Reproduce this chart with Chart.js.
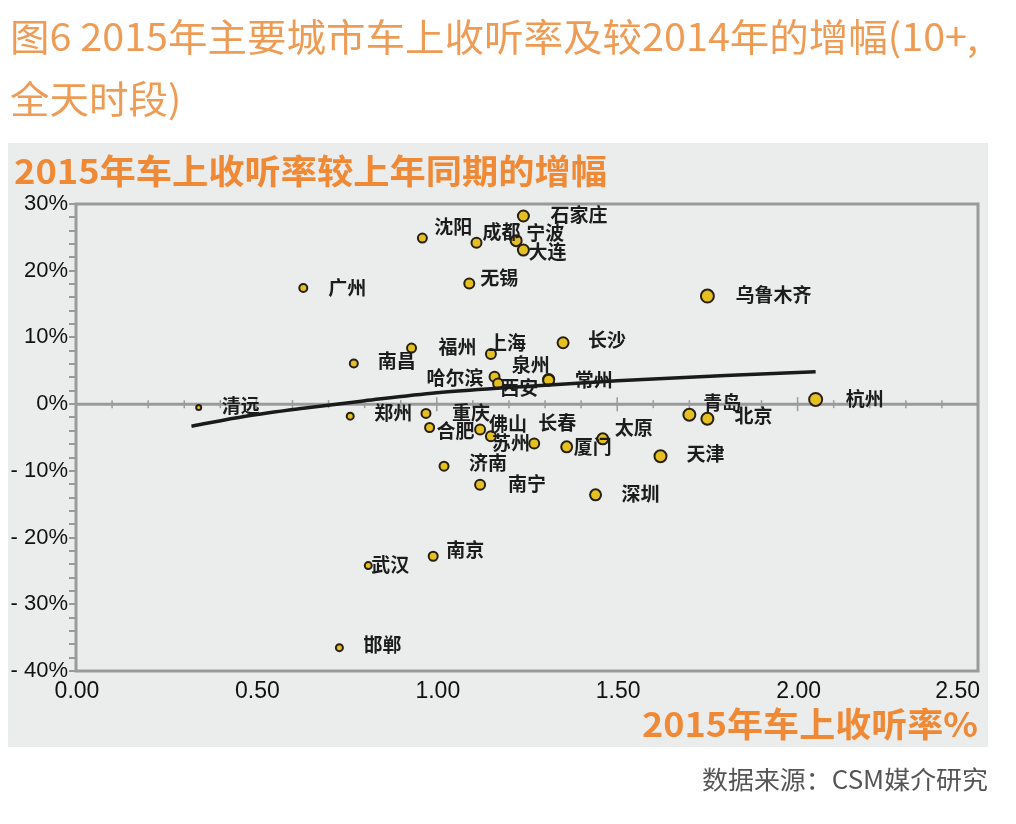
<!DOCTYPE html>
<html>
<head>
<meta charset="utf-8">
<script src="https://cdn.jsdelivr.net/npm/chart.js@4.4.1/dist/chart.umd.min.js"></script>
<style>
  html, body { margin: 0; padding: 0; background: #fff; }
  body { width: 1016px; height: 824px; position: relative; overflow: hidden; }
  #panel { position: absolute; left: 8px; top: 143px; width: 980px; height: 604px; background: #ebeded; }
  #chart { position: absolute; left: 0; top: 0; }
  .txt { position: absolute; white-space: nowrap; transform-origin: 0 50%; }
  #title { left: 10px; top: 4px; font: 400 38px/62px "Noto Sans CJK SC", sans-serif; color: #ee9c55; transform-origin: 0 0; }
  #subtitle { left: 14px; top: 150px; font: 700 34px/40px "Noto Sans CJK SC", sans-serif; color: #ef8936; }
  #xtitle { left: 642px; top: 703px; font: 700 34px/40px "Noto Sans CJK SC", sans-serif; color: #ef8936; }
  #source { left: 702px; top: 762px; font: 400 25px/32px "Noto Sans CJK SC", sans-serif; color: #555; }
</style>
</head>
<body>
<div id="panel"></div>
<canvas id="chart" width="1016" height="824"></canvas>
<div class="txt" id="title"><span id="t1">图6 2015年主要城市车上收听率及较2014年的增幅(10+,</span><br><span>全天时段)</span></div>
<div class="txt" id="subtitle">2015年车上收听率较上年同期的增幅</div>
<div class="txt" id="xtitle">2015年车上收听率%</div>
<div class="txt" id="source">数据来源：CSM媒介研究</div>
<script>
// city, 2015 in-car rating (x), growth vs 2014 in % (y), bubble size
var cities = ["清远", "广州", "南昌", "福州", "上海", "沈阳", "成都", "无锡", "石家庄", "宁波",
  "大连", "乌鲁木齐", "长沙", "哈尔滨", "西安", "泉州", "常州", "杭州", "青岛", "北京",
  "郑州", "重庆", "合肥", "佛山", "苏州", "长春", "厦门", "太原", "天津", "济南",
  "南宁", "深圳", "南京", "武汉", "邯郸"];
var rating = [0.34, 0.63, 0.77, 0.93, 1.15, 0.96, 1.11, 1.09, 1.24, 1.22,
  1.24, 1.75, 1.35, 1.16, 1.17, 1.31, 1.31, 2.05, 1.70, 1.75,
  0.76, 0.97, 0.98, 1.12, 1.15, 1.27, 1.36, 1.46, 1.62, 1.02,
  1.12, 1.44, 0.99, 0.81, 0.73];
var growth = [-0.5, 17.4, 6.1, 8.4, 7.5, 24.9, 24.2, 18.1, 28.2, 24.5,
  23.1, 16.2, 9.2, 4.1, 3.1, 3.7, 3.6, 0.7, -1.6, -2.2,
  -1.8, -1.4, -3.5, -3.8, -4.8, -5.9, -6.4, -5.2, -7.8, -9.3,
  -12.1, -13.6, -22.8, -24.2, -36.5];
var bubbleSize = [2.5, 4, 4, 4.5, 5, 4.5, 5, 5, 5.5, 5.5,
  5.5, 6.5, 5.5, 5, 5, 5.5, 5.5, 6.5, 6, 6,
  3.5, 4.5, 4.5, 5, 5, 5, 5.5, 5.5, 6, 4.5,
  5, 5.5, 4.5, 3.5, 3.5];

// trend line
var trendX = [0.32, 0.47, 0.63, 0.80, 1.00, 1.20, 1.50, 1.80, 2.05];
var trendY = [-3.3, -1.8, -0.6, 0.5, 1.7, 2.5, 3.5, 4.3, 4.85];

var xTicks = [0, 0.5, 1, 1.5, 2, 2.5];
var xTickLabels = ["0.00", "0.50", "1.00", "1.50", "2.00", "2.50"];
var yTickLabels = { "30": "30%", "20": "20%", "10": "10%", "0": "0%",
  "-10": "- 10%", "-20": "- 20%", "-30": "- 30%", "-40": "- 40%" };

// label placement relative to each bubble: [dx, dy, align]
var labelPlace = [[23, -2, "left"], [25, 0, "left"], [24, -3, "left"], [27, -1, "left"], [-3, -11, "left"],
  [12, -11, "left"], [6, -11, "left"], [11, -6, "left"], [27, -1, "left"], [10, -8, "left"],
  [5, 2, "left"], [28, -1, "left"], [25, -3, "left"], [-11, 1, "right"], [2, 4, "left"],
  [1, -15, "right"], [26, 0, "left"], [30, -1, "left"], [14, -12, "left"], [27, -3, "left"],
  [24, -3, "left"], [26, -1, "left"], [7, 3, "left"], [9, -6, "left"], [1, 7, "left"],
  [4, -21, "left"], [7, 0, "left"], [12, -11, "left"], [26, -2, "left"], [25, -3, "left"],
  [28, -1, "left"], [26, -1, "left"], [13, -6, "left"], [3, -1, "left"], [24, -3, "left"]];

var points = cities.map(function (c, i) {
  return { x: rating[i], y: growth[i], r: bubbleSize[i] };
});
var trend = trendX.map(function (x, i) { return { x: x, y: trendY[i] }; });

var axisGray = "#9a9a9a";
var tickFont = '"Liberation Sans", Arial, sans-serif';

var framePlugin = {
  id: "frame",
  beforeDatasetsDraw: function (chart) {
    var ctx = chart.ctx, a = chart.chartArea, xs = chart.scales.x, ys = chart.scales.y;
    ctx.save();
    ctx.strokeStyle = axisGray;
    ctx.lineWidth = 3;
    ctx.strokeRect(a.left, a.top, a.right - a.left, a.bottom - a.top);
    var y0 = ys.getPixelForValue(0);
    ctx.beginPath();
    ctx.moveTo(a.left, y0);
    ctx.lineTo(a.right, y0);
    ctx.stroke();
    ctx.lineWidth = 1.5;
    for (var k = 1; k < 25; k++) {
      var px = xs.getPixelForValue(k / 10);
      var len = k % 5 === 0 ? 7 : 4;
      ctx.beginPath();
      ctx.moveTo(px, y0 - len);
      ctx.lineTo(px, y0 + len);
      ctx.stroke();
    }
    ctx.restore();
  },
  afterDatasetsDraw: function (chart) {
    var ctx = chart.ctx, meta = chart.getDatasetMeta(1);
    ctx.save();
    ctx.font = 'bold 19px "Noto Sans CJK SC", sans-serif';
    ctx.fillStyle = "#1c1c1c";
    ctx.textBaseline = "middle";
    meta.data.forEach(function (el, i) {
      var p = labelPlace[i];
      ctx.textAlign = p[2];
      ctx.fillText(cities[i], el.x + p[0], el.y + p[1]);
    });
    ctx.restore();
  },
  afterDraw: function (chart) {
    var ctx = chart.ctx, a = chart.chartArea, xs = chart.scales.x;
    ctx.save();
    ctx.font = "23px " + tickFont;
    ctx.fillStyle = "#111";
    ctx.textBaseline = "middle";
    xTicks.forEach(function (v, i) {
      var px = xs.getPixelForValue(v);
      var w = ctx.measureText(xTickLabels[i]).width;
      if (px + w / 2 > a.right + 2) {
        ctx.textAlign = "right";
        ctx.fillText(xTickLabels[i], a.right + 2, a.bottom + 21);
      } else {
        ctx.textAlign = "center";
        ctx.fillText(xTickLabels[i], px + 1, a.bottom + 21);
      }
    });
    ctx.restore();
  }
};

new Chart(document.getElementById("chart"), {
  type: "bubble",
  data: {
    datasets: [
      {
        type: "line",
        data: trend,
        borderColor: "#1a1a1a",
        borderWidth: 3.5,
        pointRadius: 0,
        fill: false,
        cubicInterpolationMode: "monotone",
        order: 0
      },
      {
        data: points,
        backgroundColor: "#e6c020",
        borderColor: "#262010",
        borderWidth: 2,
        hoverRadius: 0,
        order: 1
      }
    ]
  },
  plugins: [framePlugin],
  options: {
    responsive: false,
    animation: false,
    events: [],
    layout: { padding: { top: 204, right: 38, left: 0, bottom: 0 } },
    plugins: { legend: { display: false }, tooltip: { enabled: false } },
    scales: {
      x: {
        type: "linear",
        min: 0,
        max: 2.5,
        grid: { display: false },
        border: { display: false },
        ticks: { display: false },
        afterFit: function (s) { s.height = 153; }
      },
      y: {
        min: -40,
        max: 30,
        border: { display: false },
        grid: { drawOnChartArea: false, drawTicks: true, tickLength: 7, color: axisGray, lineWidth: 2 },
        ticks: {
          stepSize: 2,
          autoSkip: false,
          padding: 1,
          color: "#111",
          font: { family: tickFont, size: 22 },
          callback: function (v) { return yTickLabels[String(v)] || ""; }
        },
        afterFit: function (s) { s.width = 76; }
      }
    }
  }
});

// stretch the text blocks to the widths they have in the picture
function fitWidth(el, measured, target) {
  var w = measured.getBoundingClientRect().width;
  if (w > 0) el.style.transform = "scaleX(" + (target / w) + ")";
}
fitWidth(document.getElementById("title"), document.getElementById("t1"), 968);
fitWidth(document.getElementById("subtitle"), document.getElementById("subtitle"), 593);
fitWidth(document.getElementById("xtitle"), document.getElementById("xtitle"), 336);
fitWidth(document.getElementById("source"), document.getElementById("source"), 286);
</script>
</body>
</html>
